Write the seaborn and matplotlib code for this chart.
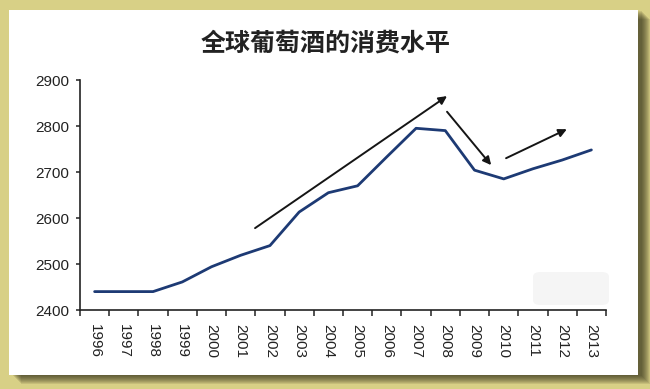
import matplotlib
matplotlib.use('Agg')
import matplotlib.pyplot as plt
import seaborn as sns
import pandas as pd
import numpy as np
from matplotlib.patches import Rectangle, FancyBboxPatch

# ---- data ----
years = ['1996', '1997', '1998', '1999', '2000', '2001', '2002', '2003', '2004',
         '2005', '2006', '2007', '2008', '2009', '2010', '2011', '2012', '2013']
consumption = [2440, 2440, 2440, 2461, 2494, 2519, 2540, 2613, 2655,
               2670, 2733, 2795, 2790, 2704, 2685, 2707, 2726, 2748]
y_ticks = [2400, 2500, 2600, 2700, 2800, 2900]
title = '全球葡萄酒的消费水平'

sns.set_theme(style='white')
plt.rcParams['font.family'] = ['Liberation Sans', 'DejaVu Sans']

W, H = 650, 389
fig = plt.figure(figsize=(6.5, 3.89), dpi=100, facecolor='#d8d086')


def fx(px):
    return px / W


def fy(py):
    return 1 - py / H


# panel with shadow
pl, pt, pr, pb = 9, 10, 638, 375
for k in range(1, 10):
    fig.patches.append(Rectangle((fx(pl + k + 3), fy(pb + k)),
                                 (pr - pl) / W, (pb - pt) / H,
                                 transform=fig.transFigure, facecolor='#2b2814',
                                 edgecolor='none', alpha=0.11, zorder=-10))
fig.patches.append(Rectangle((fx(pl), fy(pb)), (pr - pl) / W, (pb - pt) / H,
                             transform=fig.transFigure, facecolor='white',
                             edgecolor='none', zorder=-5))
# faint grey smudge bottom right
fig.patches.append(FancyBboxPatch((fx(533), fy(305)), (609 - 533) / W, (305 - 272) / H,
                                  boxstyle='round,pad=0,rounding_size=0.012',
                                  transform=fig.transFigure, facecolor='#f5f5f5',
                                  edgecolor='none', zorder=-4))

ax = fig.add_axes([fx(80), fy(310), (606 - 80) / W, (310 - 80) / H])
ax.patch.set_alpha(0)

df = pd.DataFrame({'year': years, 'value': consumption})
sns.lineplot(data=df, x='year', y='value', ax=ax, color='#1d3a74', lw=2.0,
             sort=False, solid_joinstyle='round', solid_capstyle='round')

ax.set_xlim(-0.5, len(years) - 0.5)
ax.set_ylim(y_ticks[0], y_ticks[-1])
ax.set_yticks(y_ticks)
ax.set_xticks(range(len(years)))
ax.set_xticklabels(years, rotation=270, ha='center', va='top')
ax.set_xticks(np.arange(-0.5, len(years), 1), minor=True)
ax.tick_params(axis='x', which='major', length=0, pad=10, labelsize=11, labelcolor='#222222')
ax.tick_params(axis='x', which='minor', length=4, width=1.1, color='#222222', direction='out', bottom=True)
ax.tick_params(axis='y', length=3, width=1.1, color='#222222', direction='out', left=True,
               pad=5, labelsize=11, labelcolor='#222222')
ax.set_xlabel('')
ax.set_ylabel('')
for s in ['top', 'right']:
    ax.spines[s].set_visible(False)
for s in ['left', 'bottom']:
    ax.spines[s].set_color('#222222')
    ax.spines[s].set_linewidth(1.2)

# trend arrows
arrows = [((5.49, 2578), (12.06, 2865)),
          ((12.06, 2831), (13.57, 2715)),
          ((14.08, 2730), (16.16, 2793))]
for start, end in arrows:
    ax.annotate('', xy=end, xytext=start,
                arrowprops=dict(arrowstyle='-|>', color='#151515', lw=1.4,
                                mutation_scale=12, shrinkA=0, shrinkB=0))

fig.text(fx(326), fy(44), title, ha='center', va='center', fontsize=18,
         fontweight='bold', family=['Noto Sans CJK SC', 'DejaVu Sans'], color='#222222')

fig.savefig('out.png', dpi=100, facecolor=fig.get_facecolor())
